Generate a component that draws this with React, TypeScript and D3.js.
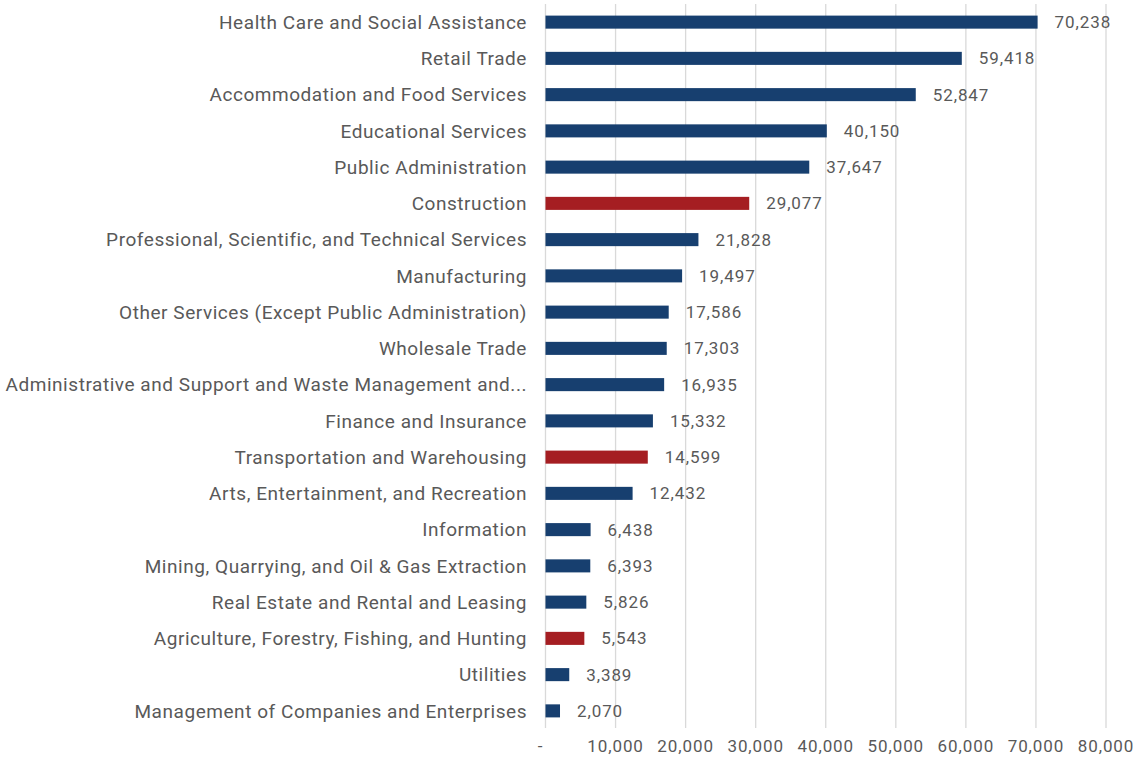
import React from "react";
import * as d3 from "d3";

const categories = [
  "Health Care and Social Assistance",
  "Retail Trade",
  "Accommodation and Food Services",
  "Educational Services",
  "Public Administration",
  "Construction",
  "Professional, Scientific, and Technical Services",
  "Manufacturing",
  "Other Services (Except Public Administration)",
  "Wholesale Trade",
  "Administrative and Support and Waste Management and...",
  "Finance and Insurance",
  "Transportation and Warehousing",
  "Arts, Entertainment, and Recreation",
  "Information",
  "Mining, Quarrying, and Oil & Gas Extraction",
  "Real Estate and Rental and Leasing",
  "Agriculture, Forestry, Fishing, and Hunting",
  "Utilities",
  "Management of Companies and Enterprises",
];
const values = [70238, 59418, 52847, 40150, 37647, 29077, 21828, 19497, 17586, 17303, 16935, 15332, 14599, 12432, 6438, 6393, 5826, 5543, 3389, 2070];
const highlighted = ["Construction", "Transportation and Warehousing", "Agriculture, Forestry, Fishing, and Hunting"];
const tickValues = [0, 10000, 20000, 30000, 40000, 50000, 60000, 70000, 80000];

const W = 1143, H = 763;
const left = 545.5, right = 1106, top = 4, bottom = 729;
const FONT = "Roboto, 'Open Sans', sans-serif";

export default function App() {
  const x = d3.scaleLinear().domain([0, 80000]).range([left, right]);
  const y = d3.scaleBand<string>().domain(categories).range([top, bottom]).paddingInner(0.64).paddingOuter(0.32);
  const fmt = d3.format(",");
  return (
    <svg width={W} height={H} style={{ position: "absolute", left: 0, top: 0 }}>
      <rect width={W} height={H} fill="#fff" />
      {tickValues.map((t) => (
        <line key={t} x1={x(t)} x2={x(t)} y1={top} y2={bottom - 1} stroke="#d9d9d9" strokeWidth={1.3} />
      ))}
      {categories.map((c, i) => (
        <g key={c}>
          <rect x={x(0)} y={y(c)} width={x(values[i]) - x(0)} height={y.bandwidth()} fill={highlighted.includes(c) ? "#A51E22" : "#173F6F"} />
          <text x={527} y={(y(c) as number) + y.bandwidth() / 2} dy="0.35em" textAnchor="end" fontFamily={FONT} fontSize={19} letterSpacing={0.55} fill="#595959">{c}</text>
          <text x={x(values[i]) + 17} y={(y(c) as number) + y.bandwidth() / 2} dy="0.35em" fontFamily={FONT} fontSize={17} letterSpacing={0.9} fill="#595959">{fmt(values[i])}</text>
        </g>
      ))}
      {tickValues.map((t) => (
        <text key={t} x={t === 0 ? x(t) - 5 : x(t)} y={746} dy="0.35em" textAnchor="middle" fontFamily={FONT} fontSize={17} letterSpacing={0.9} fill="#595959">{t === 0 ? "-" : fmt(t)}</text>
      ))}
    </svg>
  );
}
